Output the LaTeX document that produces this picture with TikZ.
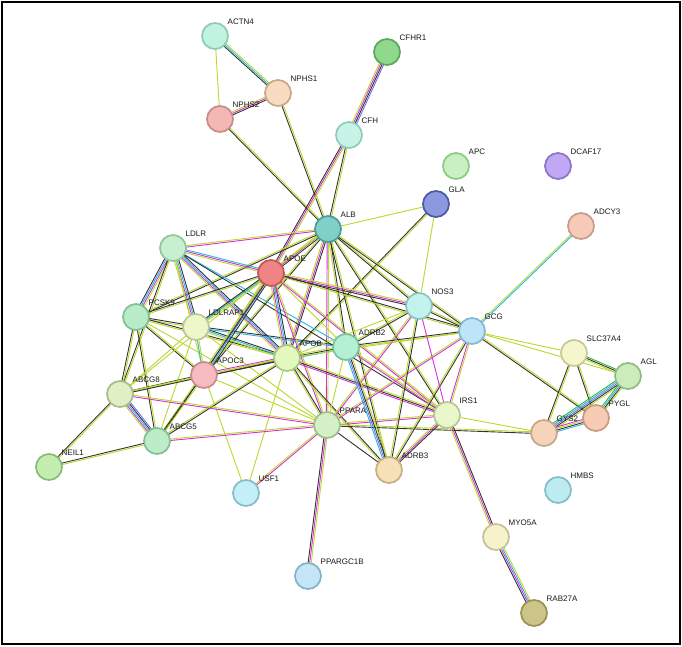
\documentclass[tikz,border=0pt]{standalone}
\usepackage{fontspec}
\setmainfont{Liberation Sans}
\usetikzlibrary{calc}
\pgfdeclarelayer{bg}
\pgfsetlayers{bg,main}
\definecolor{ctm}{HTML}{BCD82C}
\definecolor{cex}{HTML}{D830D8}
\definecolor{cdb}{HTML}{26B8E4}
\definecolor{cco}{HTML}{333333}
\definecolor{ccc}{HTML}{7070F0}
\definecolor{cnb}{HTML}{34B834}
\tikzset{
 etm/.style={draw=ctm}, eex/.style={draw=cex}, edb/.style={draw=cdb},
 eco/.style={draw=cco}, ecc/.style={draw=ccc}, enb/.style={draw=cnb},
 prot/.style={circle, minimum size=26pt, inner sep=0pt, line width=1.7pt},
 lab/.style={anchor=south west, inner sep=0pt, font=\fontsize{8}{9}\selectfont, text=black!90},
 frame/.style={draw=black, line width=2pt}
}
\newcommand\prot[6]{%
  \definecolor{f#1}{HTML}{#4}\definecolor{d#1}{HTML}{#5}%
  \node[prot, fill=f#1, draw=d#1] (#1) at (#2,#3) {};
  \node[lab] (#1-l) at ($(#1.center)+(12.5,-11)$) {#6};
}
\newcommand\lnk[3]{%
  \foreach \cc [count=\ii] in {#3} {\xdef\lnkn{\ii}}%
  \foreach \cc [count=\ii] in {#3} {%
    \pgfmathsetmacro\off{(\ii-(\lnkn+1)/2)*1.5}%
    \draw[\cc, line width=0.9pt] ($(#1.center)!\off pt!90:(#2.center)$) -- ($(#2.center)!\off pt!-90:(#1.center)$);
  }%
}
\begin{document}
\begin{tikzpicture}[x=1pt,y=-1pt]
\useasboundingbox (0,0) rectangle (682,647);
\begin{pgfonlayer}{bg}
\fill[white] (0,0) rectangle (682,647);
\end{pgfonlayer}
\draw[frame] (2,2.2) rectangle (680,644.3);
% nodes
\prot{ACTN4}{215}{36}{C2F2E0}{8CCCB4}{ACTN4}
\prot{CFHR1}{387}{52}{90D88C}{5AA85A}{CFHR1}
\prot{NPHS1}{278}{93}{F7DCC0}{C8A888}{NPHS1}
\prot{NPHS2}{220}{119}{F4B8B4}{C88C88}{NPHS2}
\prot{CFH}{349}{135}{C8F4E8}{90CCB8}{CFH}
\prot{ALB}{328}{229}{80D0C8}{4A9E98}{ALB}
\prot{GLA}{436}{204}{8C98E0}{4C58A8}{GLA}
\prot{APC}{456}{166}{C8F0C0}{90C888}{APC}
\prot{DCAF17}{558}{166}{C0A8F4}{8C74CC}{DCAF17}
\prot{ADCY3}{581}{226}{F8CAB8}{C89C8C}{ADCY3}
\prot{LDLR}{173}{248}{C8F0D0}{90C898}{LDLR}
\prot{APOE}{271}{273}{F08484}{C05858}{APOE}
\prot{PCSK9}{136}{317}{B8ECC8}{80C098}{PCSK9}
\prot{LDLRAP1}{196}{327}{EEF6CC}{BCC894}{LDLRAP1}
\prot{APOC3}{204}{375}{F6BCC0}{C88C90}{APOC3}
\prot{APOB}{287}{358}{E2F8BC}{A8C884}{APOB}
\prot{ADRB2}{346}{347}{B4F0D4}{78C4A0}{ADRB2}
\prot{ABCG8}{120}{394}{E0F0C4}{A8BC8C}{ABCG8}
\prot{ABCG5}{157}{441}{BCECC8}{84C094}{ABCG5}
\prot{NEIL1}{49}{467}{C4EEB0}{88BC78}{NEIL1}
\prot{USF1}{246}{493}{C4EEF8}{88BCCC}{USF1}
\prot{PPARA}{327}{425}{D4F0C8}{9CC08C}{PPARA}
\prot{PPARGC1B}{308}{576}{C4E6F6}{84B2C8}{PPARGC1B}
\prot{NOS3}{419}{306}{C4F2EE}{8CC6C0}{NOS3}
\prot{GCG}{472}{331}{BEE4F8}{84B6D6}{GCG}
\prot{SLC37A4}{574}{353}{F6F6CC}{C8C894}{SLC37A4}
\prot{AGL}{628}{376}{CCECBC}{94BA84}{AGL}
\prot{PYGL}{596}{418}{F6CCB4}{C89A80}{PYGL}
\prot{GYS2}{544}{433}{F6D4BC}{C8A488}{GYS2}
\prot{IRS1}{447}{415}{EAF6CC}{B8C894}{IRS1}
\prot{ADRB3}{389}{470}{F6E0B8}{C8AE84}{ADRB3}
\prot{HMBS}{558}{490}{BCECF2}{84BEC6}{HMBS}
\prot{MYO5A}{496}{537}{F6F2CC}{C8C09C}{MYO5A}
\prot{RAB27A}{534}{613}{CCC488}{9A9254}{RAB27A}
% edges
\begin{pgfonlayer}{bg}
\lnk{ACTN4}{NPHS1}{eco,edb,etm}
\lnk{ACTN4}{NPHS2}{etm}
\lnk{NPHS1}{NPHS2}{etm,eex,eco}
\lnk{NPHS2}{ALB}{eco,etm}
\lnk{NPHS1}{ALB}{eco,etm}
\lnk{CFHR1}{CFH}{etm,eex,eco,ecc}
\lnk{CFH}{ALB}{eco,etm}
\lnk{CFH}{APOE}{eco,eex,etm}
\lnk{ALB}{GLA}{etm}
\lnk{GLA}{APOB}{eco,etm}
\lnk{GLA}{NOS3}{etm}
\lnk{ADCY3}{GCG}{etm,edb}
\lnk{ALB}{APOE}{etm,eex,eco}
\lnk{ALB}{APOB}{etm,eex,eco}
\lnk{ALB}{LDLR}{etm,eex}
\lnk{ALB}{PCSK9}{etm,eco}
\lnk{ALB}{LDLRAP1}{etm}
\lnk{ALB}{APOC3}{etm,eco}
\lnk{ALB}{ADRB2}{etm,eco}
\lnk{ALB}{NOS3}{eco,etm}
\lnk{ALB}{GCG}{eco,etm}
\lnk{ALB}{IRS1}{eco,etm}
\lnk{ALB}{PPARA}{eex,etm}
\lnk{ALB}{ADRB3}{eco,etm}
\lnk{LDLR}{PCSK9}{eco,edb,eex,etm}
\lnk{LDLR}{LDLRAP1}{etm,eex,edb,eco}
\lnk{LDLR}{APOE}{etm,eex,edb}
\lnk{LDLR}{APOB}{etm,eex,edb,eco}
\lnk{LDLR}{ADRB2}{edb}
\lnk{LDLR}{IRS1}{eco}
\lnk{LDLR}{APOC3}{etm}
\lnk{LDLR}{ABCG8}{eco,etm}
\lnk{PCSK9}{APOE}{etm,eco}
\lnk{PCSK9}{LDLRAP1}{etm,eco}
\lnk{PCSK9}{APOB}{etm,eco}
\lnk{PCSK9}{APOC3}{eco,etm}
\lnk{PCSK9}{ABCG8}{eco,etm}
\lnk{PCSK9}{ABCG5}{eco,etm}
\lnk{PCSK9}{PPARA}{etm}
\lnk{LDLRAP1}{APOE}{etm,edb,eco}
\lnk{LDLRAP1}{APOB}{etm,edb,eco}
\lnk{LDLRAP1}{ADRB2}{edb,eco}
\lnk{LDLRAP1}{APOC3}{edb,etm}
\lnk{LDLRAP1}{ABCG8}{etm}
\lnk{LDLRAP1}{ABCG5}{etm}
\lnk{LDLRAP1}{PPARA}{etm}
\lnk{APOE}{APOB}{etm,eex,edb,eco}
\lnk{APOE}{APOC3}{etm,eex,edb,eco}
\lnk{APOE}{NOS3}{eco,eex,etm}
\lnk{APOE}{ADRB2}{etm}
\lnk{APOE}{PPARA}{eex,etm}
\lnk{APOE}{IRS1}{eex,etm}
\lnk{APOE}{ABCG5}{etm,eco}
\lnk{APOE}{ABCG8}{etm}
\lnk{APOE}{GCG}{etm,eco}
\lnk{APOC3}{APOB}{eco,etm,eex}
\lnk{APOC3}{ABCG8}{eco,etm}
\lnk{APOC3}{ABCG5}{eco,etm}
\lnk{APOC3}{PPARA}{etm}
\lnk{APOC3}{USF1}{etm}
\lnk{APOB}{ADRB2}{edb,eco,etm}
\lnk{APOB}{NOS3}{etm}
\lnk{APOB}{GCG}{etm}
\lnk{APOB}{PPARA}{etm,eco}
\lnk{APOB}{IRS1}{eex,eco,etm}
\lnk{APOB}{ABCG8}{etm,eco}
\lnk{APOB}{ABCG5}{etm,eco}
\lnk{APOB}{USF1}{etm}
\lnk{APOB}{ADRB3}{etm,eco}
\lnk{ABCG8}{ABCG5}{etm,eex,edb,eco,ecc}
\lnk{ABCG8}{NEIL1}{eco,etm}
\lnk{ABCG5}{NEIL1}{eco,etm}
\lnk{ABCG8}{PPARA}{eex,etm}
\lnk{ABCG5}{PPARA}{eex,etm}
\lnk{USF1}{PPARA}{eex,etm}
\lnk{PPARA}{PPARGC1B}{eco,eex,etm}
\lnk{PPARA}{ADRB2}{etm}
\lnk{PPARA}{NOS3}{eex,etm}
\lnk{PPARA}{GCG}{eex,etm}
\lnk{PPARA}{IRS1}{eex,etm}
\lnk{PPARA}{ADRB3}{eco}
\lnk{PPARA}{GYS2}{eco,etm}
\lnk{ADRB2}{ADRB3}{edb,ecc,eco,etm}
\lnk{ADRB2}{NOS3}{eco,etm}
\lnk{ADRB2}{GCG}{etm,eco}
\lnk{ADRB2}{IRS1}{eex,etm}
\lnk{ADRB3}{NOS3}{eco,etm}
\lnk{ADRB3}{GCG}{eco,etm}
\lnk{ADRB3}{IRS1}{eco,eex,etm}
\lnk{NOS3}{GCG}{eco,etm}
\lnk{NOS3}{IRS1}{eex}
\lnk{GCG}{IRS1}{eex,etm}
\lnk{GCG}{SLC37A4}{etm}
\lnk{GCG}{AGL}{etm}
\lnk{GCG}{PYGL}{eco,etm}
\lnk{IRS1}{GYS2}{etm}
\lnk{IRS1}{MYO5A}{etm,eex,eco}
\lnk{MYO5A}{RAB27A}{eco,eex,edb,etm}
\lnk{SLC37A4}{AGL}{etm,eco,enb}
\lnk{SLC37A4}{GYS2}{eco,etm}
\lnk{SLC37A4}{PYGL}{eco,etm}
\lnk{AGL}{GYS2}{enb,edb,ecc,eco,etm}
\lnk{AGL}{PYGL}{enb,edb,eco,etm}
\lnk{GYS2}{PYGL}{edb,eco,etm,eex}
\end{pgfonlayer}
\end{tikzpicture}
\end{document}
